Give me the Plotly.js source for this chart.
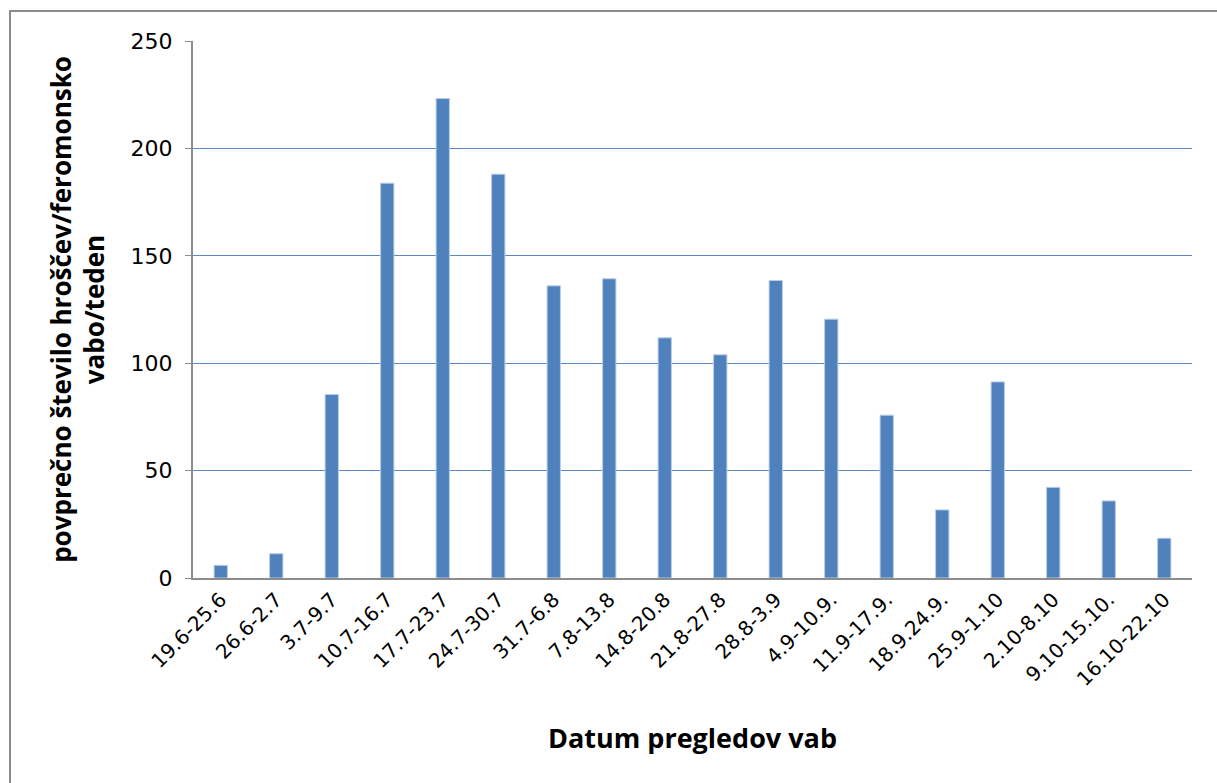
<!DOCTYPE html>
<html>
<head>
<meta charset="utf-8">
<script src="https://cdn.plot.ly/plotly-3.0.1.min.js"></script>
<style>
  html, body { margin: 0; padding: 0; background: #fff; }
  #wrap { position: relative; width: 1217px; height: 783px; overflow: hidden; }
  #chart { position: absolute; left: 0; top: 0; width: 1217px; height: 783px; }
  #frame { position: absolute; left: 9px; top: 10px; width: 1300px; height: 900px;
           border-top: 2px solid #8c8c8c; border-left: 2px solid #8c8c8c; pointer-events: none; }
</style>
</head>
<body>
<div id="wrap">
  <div id="chart"></div>
  <div id="frame"></div>
</div>
<script>
const categories = ["19.6-25.6", "26.6-2.7", "3.7-9.7", "10.7-16.7", "17.7-23.7", "24.7-30.7",
  "31.7-6.8", "7.8-13.8", "14.8-20.8", "21.8-27.8", "28.8-3.9", "4.9-10.9.", "11.9-17.9.",
  "18.9.24.9.", "25.9-1.10", "2.10-8.10", "9.10-15.10.", "16.10-22.10"];
const values = [5.9, 11.3, 85.4, 183.8, 223.2, 188.0, 136.0, 139.3, 111.8, 103.9, 138.5, 120.5,
  75.8, 31.7, 91.3, 42.2, 35.9, 18.5];
const yTickVals = [0, 50, 100, 150, 200, 250];

const trace = {
  type: "bar",
  x: categories,
  y: values,
  marker: { color: "#4F81BD", line: { color: "#B9CDE5", width: 1 } },
  hoverinfo: "x+y"
};

const layout = {
  width: 1217, height: 783,
  margin: { l: 193, r: 25, t: 41, b: 205 },
  paper_bgcolor: "#ffffff", plot_bgcolor: "#ffffff",
  bargap: 0.76,
  showlegend: false,
  xaxis: {
    type: "category",
    tickangle: -45,
    tickfont: { family: "DejaVu Sans", size: 20, color: "#000" },
    showline: true, linecolor: "#8c8c8c", linewidth: 2,
    showgrid: false, ticks: "",
    title: { text: "Datum pregledov vab", font: { family: "Open Sans", size: 27, color: "#000", weight: "bold" }, standoff: 39 },
    automargin: false
  },
  yaxis: {
    range: [0, 250],
    tickvals: yTickVals,
    tickfont: { family: "DejaVu Sans", size: 22, color: "#000" },
    showline: true, linecolor: "#8c8c8c", linewidth: 2,
    ticks: "outside", ticklen: 6, tickcolor: "#8c8c8c", tickwidth: 1,
    showgrid: true, gridcolor: "#5B88C0", gridwidth: 1.3,
    zeroline: false,
    ticklabelstandoff: 8,
    title: { text: "<b>povprečno število hroščev/feromonsko<br>vabo/teden</b>", font: { family: "Open Sans", size: 26, color: "#000" }, standoff: 18 },
    automargin: false
  }
};

Plotly.newPlot("chart", [trace], layout, { displayModeBar: false, staticPlot: true });
</script>
</body>
</html>
